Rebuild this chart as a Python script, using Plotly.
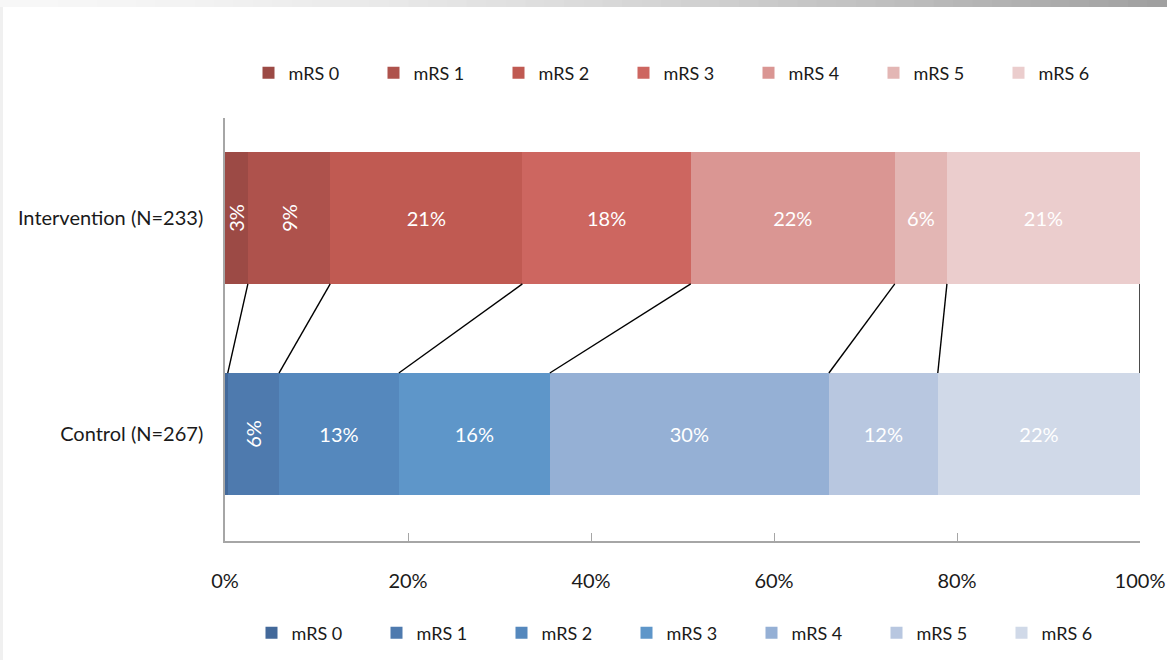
import plotly.graph_objects as go

categories = ["mRS 0", "mRS 1", "mRS 2", "mRS 3", "mRS 4", "mRS 5", "mRS 6"]
groups = ["Intervention (N=233)", "Control (N=267)"]
intervention = [2.5, 9.0, 21.0, 18.4, 22.3, 5.7, 21.1]
control = [0.3, 5.6, 13.1, 16.5, 30.5, 11.9, 22.1]
intervention_text = ["3%", "9%", "21%", "18%", "22%", "6%", "21%"]
control_text = ["", "6%", "13%", "16%", "30%", "12%", "22%"]
red_colors = ["#9c4a45", "#ae524c", "#c05a52", "#cd6660", "#da9693", "#e3b6b4", "#ebcdcd"]
blue_colors = ["#43699a", "#4e7aae", "#5588bd", "#5e96c9", "#95b0d5", "#b8c7e0", "#d0d9e8"]
x_ticks = [0, 20, 40, 60, 80, 100]
x_tick_labels = ["0%", "20%", "40%", "60%", "80%", "100%"]

FONT = "Lato"
Y_INT, Y_CTL = 1, 0
W_INT, W_CTL = 0.61, 0.565

fig = go.Figure()
for i, cat in enumerate(categories):
    ang = -90 if i < 2 else 0
    fig.add_trace(go.Bar(
        x=[intervention[i]], y=[Y_INT], width=[W_INT], orientation="h", name=cat,
        marker=dict(color=red_colors[i], line=dict(width=0)),
        text=[intervention_text[i]], textposition="inside", insidetextanchor="middle",
        textangle=ang, constraintext="none",
        insidetextfont=dict(color="white", size=20, family=FONT),
        legend="legend", hoverinfo="x+name"))
for i, cat in enumerate(categories):
    ang = -90 if i < 2 else 0
    fig.add_trace(go.Bar(
        x=[control[i]], y=[Y_CTL], width=[W_CTL], orientation="h", name=cat,
        marker=dict(color=blue_colors[i], line=dict(width=0)),
        text=[control_text[i]], textposition="inside", insidetextanchor="middle",
        textangle=ang, constraintext="none",
        insidetextfont=dict(color="white", size=20, family=FONT),
        legend="legend2", hoverinfo="x+name"))

# connector lines between cumulative boundaries
lx, ly = [], []
ci, cc = 0.0, 0.0
for a, b in zip(intervention, control):
    ci += a
    cc += b
    lx += [ci, cc, None]
    ly += [Y_INT - W_INT / 2, Y_CTL + W_CTL / 2, None]
fig.add_trace(go.Scatter(x=lx, y=ly, mode="lines", line=dict(color="black", width=1.4),
                         showlegend=False, hoverinfo="skip"))

# decorative frame (top gradient strip, left strip)
W, H = 1167, 660
L, R, T, B = 225, 27, 118, 119
pw, ph = W - L - R, H - T - B
def px_x(p): return (p - L) / pw
def px_y(p): return (H - B - p) / ph
shapes = []
n = 60
for k in range(n):
    f = k / (n - 1)
    v = int(round(247 - (247 - 160) * (f ** 1.6)))
    col = f"rgb({v},{v},{v})"
    shapes.append(dict(type="rect", xref="paper", yref="paper",
                       x0=px_x(W * k / n), x1=px_x(W * (k + 1) / n + 1),
                       y0=px_y(7), y1=px_y(0), fillcolor=col, line=dict(width=0), layer="below"))
shapes.append(dict(type="rect", xref="paper", yref="paper", x0=px_x(0), x1=px_x(3),
                   y0=px_y(H), y1=px_y(7), fillcolor="#f0f0f0", line=dict(width=0), layer="below"))

fig.update_layout(
    width=W, height=H, barmode="stack",
    margin=dict(l=L, r=R, t=T, b=B, pad=0, autoexpand=False),
    paper_bgcolor="white", plot_bgcolor="white",
    font=dict(family=FONT, color="#1a1a1a"),
    shapes=shapes,
    xaxis=dict(range=[0, 100], tickvals=x_ticks, ticktext=x_tick_labels, automargin=False,
               showgrid=False, zeroline=False, showline=True, linecolor="#a6a6a6", linewidth=1.5,
               ticks="inside", ticklen=8, tickcolor="#a6a6a6", tickwidth=1.2,
               tickfont=dict(size=20, family=FONT, color="#1a1a1a"), ticklabelstandoff=21,
               fixedrange=True),
    yaxis=dict(range=[-0.495, 1.463], tickvals=[Y_INT, Y_CTL], ticktext=groups, automargin=False,
               showgrid=False, zeroline=False, showline=True, linecolor="#a6a6a6", linewidth=1.5,
               ticks="", tickfont=dict(size=20, family=FONT, color="#1a1a1a"),
               ticklabelstandoff=16, fixedrange=True),
    legend=dict(orientation="h", x=px_x(686), y=px_y(73), xanchor="center", yanchor="middle",
                traceorder="normal", entrywidth=80, entrywidthmode="pixels",
                font=dict(size=18, family=FONT, color="#1a1a1a"), bgcolor="rgba(0,0,0,0)"),
    legend2=dict(orientation="h", x=px_x(689), y=px_y(633), xanchor="center", yanchor="middle",
                 traceorder="normal", entrywidth=80, entrywidthmode="pixels",
                 font=dict(size=18, family=FONT, color="#1a1a1a"), bgcolor="rgba(0,0,0,0)"),
)

fig.write_html("out.html")
